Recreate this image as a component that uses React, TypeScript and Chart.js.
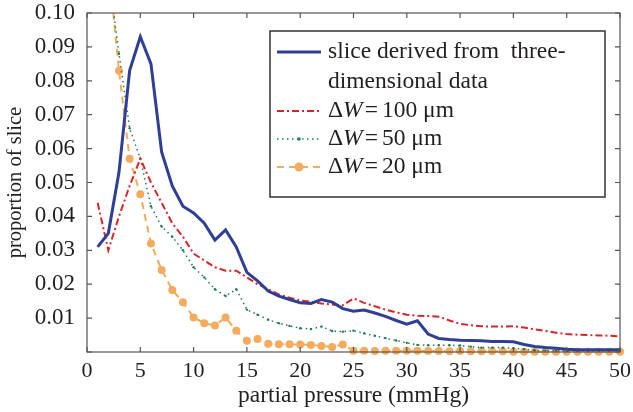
import React, { useEffect, useRef } from 'react';
import { Chart, registerables } from 'chart.js';

Chart.register(...registerables);

const pressure = [1, 2, 3, 4, 5, 6, 7, 8, 9, 10, 11, 12, 13, 14, 15, 16, 17, 18, 19, 20, 21, 22, 23, 24, 25, 26, 27, 28, 29, 30, 31, 32, 33, 34, 35, 36, 37, 38, 39, 40, 41, 42, 43, 44, 45, 46, 47, 48, 49, 50];

const sliceThreeD = [0.031, 0.035, 0.053, 0.083, 0.093, 0.085, 0.059, 0.049, 0.043, 0.041, 0.038, 0.033, 0.036, 0.031, 0.0235, 0.021, 0.018, 0.0165, 0.0155, 0.0145, 0.0143, 0.0155, 0.0147, 0.0128, 0.012, 0.0124, 0.0115, 0.0105, 0.0093, 0.0082, 0.0092, 0.0053, 0.004, 0.0037, 0.0035, 0.0034, 0.0033, 0.0031, 0.0031, 0.003, 0.0022, 0.0016, 0.0013, 0.0011, 0.0008, 0.0007, 0.0007, 0.0007, 0.0007, 0.0007];

const dw100 = [0.044, 0.030, 0.040, 0.049, 0.057, 0.050, 0.044, 0.038, 0.034, 0.029, 0.027, 0.025, 0.024, 0.024, 0.022, 0.020, 0.0185, 0.017, 0.016, 0.0152, 0.0148, 0.0143, 0.014, 0.0138, 0.0158, 0.0145, 0.0135, 0.0125, 0.0117, 0.011, 0.0107, 0.0106, 0.0104, 0.0093, 0.0083, 0.0079, 0.0076, 0.0075, 0.0075, 0.0076, 0.0072, 0.0067, 0.0062, 0.0057, 0.0053, 0.0051, 0.005, 0.0049, 0.0048, 0.0046];

const dw50 = [0.14, 0.112, 0.088, 0.066, 0.057, 0.043, 0.037, 0.034, 0.030, 0.025, 0.022, 0.0185, 0.0165, 0.0185, 0.0125, 0.011, 0.0095, 0.0085, 0.0077, 0.007, 0.0068, 0.0075, 0.0062, 0.006, 0.0063, 0.0055, 0.0048, 0.0041, 0.0034, 0.0027, 0.0021, 0.002, 0.002, 0.002, 0.0019, 0.0016, 0.0013, 0.0013, 0.0013, 0.0011, 0.0008, 0.0005, 0.0004, 0.0004, 0.0003, 0.0003, 0.0003, 0.0003, 0.0003, 0.0003];

const dw20 = [0.16, 0.115, 0.083, 0.057, 0.0465, 0.032, 0.0242, 0.0183, 0.0147, 0.0102, 0.0085, 0.0078, 0.0102, 0.0063, 0.0033, 0.0038, 0.0024, 0.0023, 0.0023, 0.0022, 0.0021, 0.0018, 0.0015, 0.0022, 0.0004, 0.0004, 0.0003, 0.0004, 0.0004, 0.0004, 0.0004, 0.0003, 0.0003, 0.0002, 0.0003, 0.0002, 0.0002, 0.0002, 0.0002, 0.0001, 0.0001, 0.0001, 0.0001, 0.0001, 0.0001, 0.0001, 0.0001, 0.0001, 0.0001, 0.0001];

const xTicks = [0, 5, 10, 15, 20, 25, 30, 35, 40, 45, 50];
const yTicks = [0, 0.01, 0.02, 0.03, 0.04, 0.05, 0.06, 0.07, 0.08, 0.09, 0.1];

const seriesNames = ['slice derived from  three-dimensional data', 'ΔW = 100 μm', 'ΔW = 50 μm', 'ΔW = 20 μm'];
const legendLines = [['slice derived from  three-', 'dimensional data'], ['100 μm'], ['50 μm'], ['20 μm']];

const FONT = '"Liberation Serif", "Times New Roman", serif';
const TEXT = '#231f20';
const AXIS = '#555555';
const LEGEND_PX = 23.5;

const COLORS = {
  blue: '#2f3f95',
  red: '#d7262b',
  green: '#1f7a52',
  orange: '#f5ab5e',
};

const toPoints = (ys: number[]) => pressure.map((x, i) => ({ x, y: ys[i] }));

const framePlugin = {
  id: 'frameAndLegend',
  afterDraw(chart: any) {
    const { ctx, chartArea } = chart;
    const { left, right, top, bottom } = chartArea;
    const xs = chart.scales.x;
    const ys = chart.scales.y;
    ctx.save();
    ctx.strokeStyle = AXIS;
    ctx.lineWidth = 1.2;
    ctx.strokeRect(left, top, right - left, bottom - top);
    const tl = 5;
    ctx.beginPath();
    xTicks.forEach((v) => {
      const px = xs.getPixelForValue(v);
      ctx.moveTo(px, bottom);
      ctx.lineTo(px, bottom - tl);
      ctx.moveTo(px, top);
      ctx.lineTo(px, top + tl);
    });
    yTicks.forEach((v) => {
      const py = ys.getPixelForValue(v);
      ctx.moveTo(left, py);
      ctx.lineTo(left + tl, py);
      ctx.moveTo(right, py);
      ctx.lineTo(right - tl, py);
    });
    ctx.stroke();

    // legend
    const bl = left + 183;
    const br = right - 15;
    const bt = top + 18;
    const bb = top + 184;
    ctx.fillStyle = '#ffffff';
    ctx.fillRect(bl, bt, br - bl, bb - bt);
    ctx.strokeStyle = '#333333';
    ctx.lineWidth = 1.5;
    ctx.strokeRect(bl, bt, br - bl, bb - bt);

    const rowY = [bt + 21, bt + 80, bt + 108, bt + 136];
    const s0 = bl + 7;
    const s1 = bl + 51;
    const tx = bl + 58;
    const ds = chart.data.datasets;
    const f = `${LEGEND_PX}px ${FONT}`;
    const fi = `italic ${LEGEND_PX}px ${FONT}`;
    ctx.textBaseline = 'middle';

    rowY.forEach((y, i) => {
      const d = ds[i];
      ctx.save();
      ctx.strokeStyle = d.borderColor;
      ctx.lineWidth = d.borderWidth;
      ctx.setLineDash(d.borderDash || []);
      ctx.beginPath();
      ctx.moveTo(s0, y);
      ctx.lineTo(s1, y);
      ctx.stroke();
      ctx.setLineDash([]);
      if (i === 2) {
        ctx.fillStyle = d.borderColor;
        ctx.fillRect((s0 + s1) / 2 - 1.5, y - 1.5, 3, 3);
      }
      if (i === 3) {
        ctx.fillStyle = d.pointBackgroundColor;
        ctx.beginPath();
        ctx.arc((s0 + s1) / 2, y, 4.5, 0, Math.PI * 2);
        ctx.fill();
      }
      ctx.restore();

      ctx.fillStyle = TEXT;
      if (i === 0) {
        ctx.font = f;
        ctx.fillText(legendLines[0][0], tx, y);
        ctx.fillText(legendLines[0][1], tx, y + 30);
      } else {
        let x = tx;
        ctx.font = f;
        ctx.fillText('Δ', x, y);
        x += ctx.measureText('Δ').width;
        ctx.font = fi;
        ctx.fillText('W', x, y);
        x += ctx.measureText('W').width + 2;
        ctx.font = f;
        ctx.fillText('=', x, y);
        x += ctx.measureText('=').width + 4;
        ctx.fillText(legendLines[i][0], x, y);
      }
    });
    ctx.restore();
  },
};

export default function App() {
  const canvasRef = useRef<HTMLCanvasElement | null>(null);

  useEffect(() => {
    document.body.style.margin = '0';
    const canvas = canvasRef.current;
    if (!canvas) return;
    const clip = { left: 0, top: 0, right: 6, bottom: 6 };
    const chart = new Chart(canvas, {
      type: 'line',
      data: {
        datasets: [
          {
            label: seriesNames[0],
            data: toPoints(sliceThreeD),
            borderColor: COLORS.blue,
            borderWidth: 3,
            pointRadius: 0,
            tension: 0,
            clip,
          },
          {
            label: seriesNames[1],
            data: toPoints(dw100),
            borderColor: COLORS.red,
            borderWidth: 2,
            borderDash: [7, 3, 2, 3],
            pointRadius: 0,
            tension: 0,
            clip,
          },
          {
            label: seriesNames[2],
            data: toPoints(dw50),
            borderColor: COLORS.green,
            borderWidth: 1.5,
            borderDash: [1.5, 3.5],
            pointRadius: 1.2,
            pointBackgroundColor: COLORS.green,
            pointBorderWidth: 0,
            tension: 0,
            clip,
          },
          {
            label: seriesNames[3],
            data: toPoints(dw20),
            borderColor: COLORS.orange,
            borderWidth: 2,
            borderDash: [7, 5],
            pointRadius: 4,
            pointBackgroundColor: COLORS.orange,
            pointBorderWidth: 0,
            tension: 0,
            clip,
          },
        ],
      },
      options: {
        animation: false,
        responsive: true,
        maintainAspectRatio: false,
        layout: { padding: { left: 0, right: 13, top: 13, bottom: 0 } },
        plugins: {
          legend: { display: false },
          tooltip: { enabled: false },
        },
        scales: {
          x: {
            type: 'linear',
            min: 0,
            max: 50,
            grid: { display: false, drawTicks: false },
            border: { display: false },
            afterBuildTicks: (scale: any) => {
              scale.ticks = xTicks.map((v) => ({ value: v }));
            },
            afterFit: (scale: any) => {
              scale.height = 60;
              scale.paddingLeft = 0;
              scale.paddingRight = 0;
            },
            ticks: {
              padding: 6,
              color: TEXT,
              font: { family: FONT, size: 22 },
              maxRotation: 0,
              autoSkip: false,
              callback: (v: any) => String(v),
            },
            title: {
              display: true,
              text: 'partial pressure (mmHg)',
              color: TEXT,
              font: { family: FONT, size: 23.5 },
              padding: { top: 0, bottom: 2 },
            },
          },
          y: {
            type: 'linear',
            min: 0,
            max: 0.1,
            grid: { display: false, drawTicks: false },
            border: { display: false },
            afterBuildTicks: (scale: any) => {
              scale.ticks = yTicks.map((v) => ({ value: v }));
            },
            afterFit: (scale: any) => {
              scale.width = 87;
              scale.paddingTop = 0;
              scale.paddingBottom = 0;
            },
            ticks: {
              padding: 12,
              color: TEXT,
              font: { family: FONT, size: 23 },
              autoSkip: false,
              callback: (v: any) => (Number(v) === 0 ? '' : Number(v).toFixed(2)),
            },
            title: {
              display: true,
              text: 'proportion of slice',
              color: TEXT,
              font: { family: FONT, size: 20.5 },
              padding: { top: 3, bottom: 0 },
            },
          },
        },
      },
      plugins: [framePlugin],
    });
    return () => chart.destroy();
  }, []);

  return (
    <div style={{ position: 'relative', width: 633, height: 412 }}>
      <canvas ref={canvasRef} />
    </div>
  );
}
